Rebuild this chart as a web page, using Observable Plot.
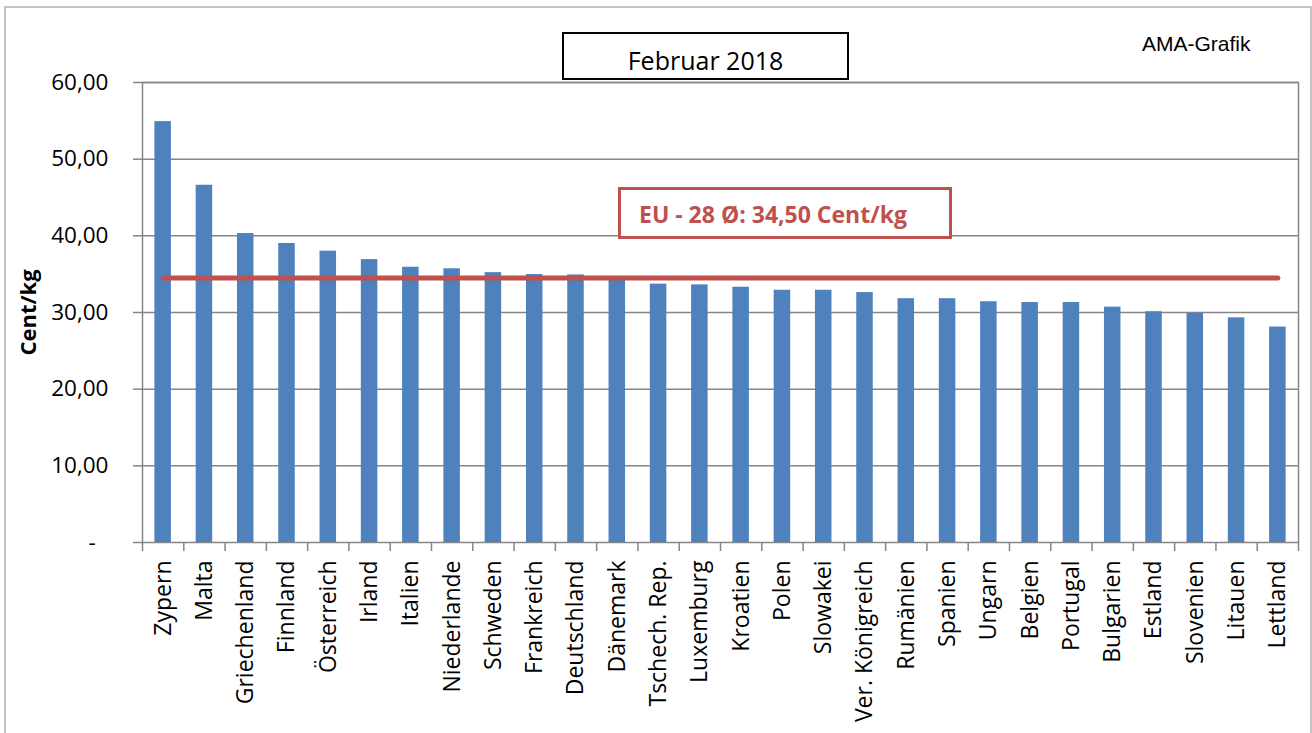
<!DOCTYPE html>
<html>
<head>
<meta charset="utf-8">
<script src="https://cdn.jsdelivr.net/npm/d3@7"></script>
<script src="https://cdn.jsdelivr.net/npm/@observablehq/plot@0.6"></script>
<style>
  body { margin: 0; background: #fff; }
  #wrap { position: relative; width: 1312px; height: 733px; overflow: hidden; font-family: "Open Sans", sans-serif; }
  #chart { position: absolute; left: 0; top: 0; }
  #border { position: absolute; left: 4px; top: 6px; width: 1308px; height: 760px; border: 2px solid #c4c4c4; box-sizing: border-box; pointer-events: none; }
  #title { position: absolute; left: 562px; top: 32px; width: 287px; height: 48px; border: 2px solid #000; box-sizing: border-box; background: #fff;
           font-size: 25px; line-height: 36px; padding-top: 8px; text-align: center; color: #000; }
  #source { position: absolute; left: 1142px; top: 32px; font-family: "Liberation Sans", Arial, sans-serif; font-size: 21px; line-height: 24px; color: #000; }
  #avg { position: absolute; left: 618px; top: 187px; width: 334px; height: 52px; border: 3px solid #C0504D; box-sizing: border-box; background: #fff;
         font-size: 23px; font-weight: bold; line-height: 30px; padding-top: 9px; padding-left: 18px; color: #C0504D; white-space: nowrap; }
</style>
</head>
<body>
<div id="wrap">
  <div id="chart"></div>
  <div id="border"></div>
  <div id="title">Februar 2018</div>
  <div id="source">AMA-Grafik</div>
  <div id="avg">EU - 28 Ø: 34,50 Cent/kg</div>
</div>
<script>
const countries = ["Zypern", "Malta", "Griechenland", "Finnland", "Österreich", "Irland", "Italien", "Niederlande",
  "Schweden", "Frankreich", "Deutschland", "Dänemark", "Tschech. Rep.", "Luxemburg", "Kroatien", "Polen",
  "Slowakei", "Ver. Königreich", "Rumänien", "Spanien", "Ungarn", "Belgien", "Portugal", "Bulgarien",
  "Estland", "Slovenien", "Litauen", "Lettland"];
const prices = [54.9, 46.6, 40.3, 39.0, 38.0, 36.9, 35.9, 35.7,
  35.2, 34.95, 34.9, 34.6, 33.7, 33.6, 33.3, 32.9,
  32.9, 32.6, 31.8, 31.8, 31.4, 31.3, 31.3, 30.7,
  30.1, 29.9, 29.3, 28.1];
const euAverage = 34.5;
const yTicks = [0, 10, 20, 30, 40, 50, 60];
const yLabel = "Cent/kg";

const data = countries.map((c, i) => ({country: c, value: prices[i]}));

const W = 1312, H = 733, ML = 142, MR = 14, MT = 82, MB = 191;
const step = (W - ML - MR) / countries.length;
const grey = "#868686";
const fmt = d => d === 0 ? "-\u2007" : d.toFixed(2).replace(".", ",");

const chart = Plot.plot({
  width: W, height: H,
  marginLeft: ML, marginRight: MR, marginTop: MT, marginBottom: MB,
  style: {fontFamily: '"Open Sans", sans-serif', fontSize: "22px", color: "#000", background: "transparent", overflow: "visible"},
  x: {domain: countries, paddingInner: 0.6, paddingOuter: 0.3, round: false, label: null},
  y: {domain: [0, 60], label: null},
  marks: [
    Plot.gridY(yTicks.filter(d => d > 0), {stroke: grey, strokeOpacity: 1, strokeWidth: 1.5}),
    Plot.frame({stroke: grey, strokeWidth: 1.5}),
    Plot.barY(data, {x: "country", y: "value", fill: "#4F81BD"}),
    Plot.ruleX(countries, {x: d => d, y1: 0, y2: 0, dx: -step / 2, insetTop: 0, insetBottom: -9, stroke: grey, strokeWidth: 1.5}),
    Plot.ruleX(countries.slice(-1), {x: d => d, y1: 0, y2: 0, dx: step / 2, insetTop: 0, insetBottom: -9, stroke: grey, strokeWidth: 1.5}),
    Plot.line(countries, {x: d => d, y: () => euAverage, stroke: "#C0504D", strokeWidth: 5, strokeLinecap: "round"}),
    Plot.axisY(yTicks, {tickSize: 9, tickPadding: 25, tickFormat: fmt, stroke: grey, strokeWidth: 1.5, fill: "#000", fontSize: 22.5, label: null}),
    Plot.axisX({tickSize: 0, tickRotate: -90, tickPadding: 18, fill: "#000", fontSize: 23, label: null}),
    Plot.text([yLabel], {frameAnchor: "left", textAnchor: "middle", dx: -114, rotate: -90, fontWeight: "bold", fontSize: 22, fill: "#000"})
  ]
});
document.getElementById("chart").appendChild(chart);
</script>
</body>
</html>
